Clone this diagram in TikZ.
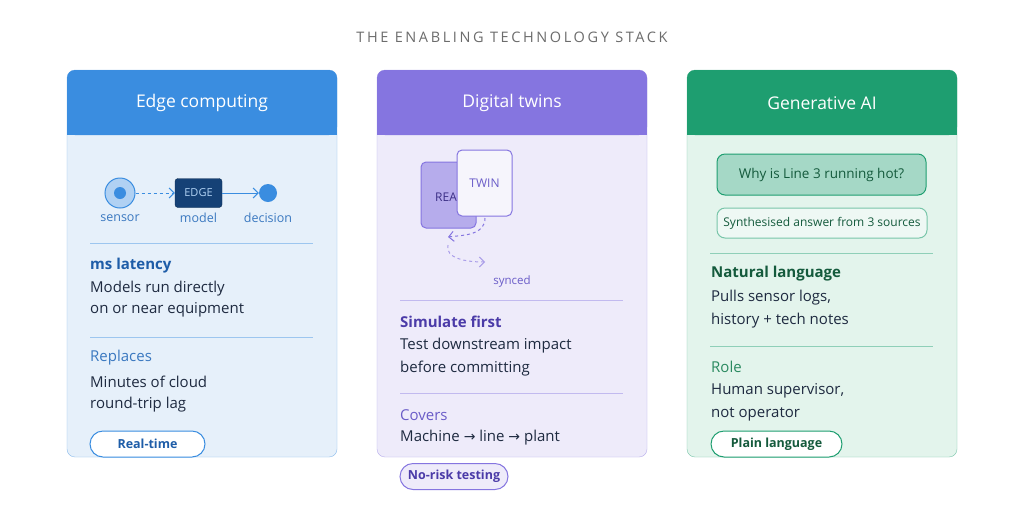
\documentclass[tikz,border=0pt]{standalone}
\usepackage{fontspec}
\setmainfont{Open Sans}
\newfontfamily\arr{DejaVu Sans}
\usetikzlibrary{arrows.meta}
\definecolor{bH}{HTML}{3A8DE0}\definecolor{bB}{HTML}{E6F0FA}\definecolor{bD}{HTML}{1E5DA8}\definecolor{bT}{HTML}{3A78C0}
\definecolor{pH}{HTML}{8575E0}\definecolor{pB}{HTML}{EEEBFA}\definecolor{pD}{HTML}{4B3BA8}\definecolor{pT}{HTML}{6A5CC8}
\definecolor{gH}{HTML}{1E9E70}\definecolor{gB}{HTML}{E3F4EC}\definecolor{gD}{HTML}{145A3C}\definecolor{gT}{HTML}{2A8A60}
\definecolor{txt}{HTML}{1E2A40}
\tikzset{
 hdr/.style={font=\fontsize{17.5}{20}\selectfont,text=white,anchor=center},
 bt/.style={anchor=west,font=\fontsize{15}{18}\selectfont,inner sep=0},
 pill/.style={draw=#1,fill=white,rounded corners=13,minimum height=26,inner sep=0,font=\fontsize{12.5}{15}\bfseries\selectfont,line width=1},
}
\begin{document}
\begin{tikzpicture}[x=1pt,y=-1pt]
\fill[white] (0,0) rectangle (1024,512);
\node (title) at (512,37) {\fontsize{14.5}{17}\selectfont\addfontfeature{LetterSpace=18}\color{gray!85!black}THE ENABLING TECHNOLOGY STACK};
% cards
\foreach \x/\c in {67/b,377/p,687/g}{
 \draw[\c H!60,fill=\c B,rounded corners=8] (\x,70) rectangle (\x+270,457);
 \fill[\c H,rounded corners=8] (\x,70) rectangle (\x+270,135);
 \fill[\c H] (\x,110) rectangle (\x+270,135);
}
\node[hdr] (h1) at (202,103) {Edge computing};
\node[hdr] (h2) at (512,103) {Digital twins};
\node[hdr] (h3) at (822,103) {Generative AI};
% blue
\node[circle,draw=bH,fill=bH!40,line width=1,minimum size=30,inner sep=0] (sen) at (120,193) {};
\fill[bH] (sen) circle (6);
\node[fill=bD!70!black,draw=bD!50!black,rounded corners=3,minimum width=47,minimum height=29,inner sep=0,text=bH!40,font=\fontsize{11}{13}\selectfont] (edge) at (198.5,193) {EDGE};
\node[circle,fill=bH,minimum size=18,inner sep=0] (dec) at (268,193) {};
\draw[bH,dashed,line width=1,-{Straight Barb[length=5]}] (sen) -- (edge);
\draw[bH,line width=1,-{Straight Barb[length=5]}] (edge) -- (dec);
\foreach \n/\p/\t in {l1/120/sensor,l2/198.5/model,l3/268/decision}\node[text=bT,font=\fontsize{12.5}{15}\selectfont] (\n) at (\p,218) {\t};
\draw[bH!50] (90,243) -- (313,243);
\node[bt,text=bD,font=\fontsize{15}{18}\bfseries\selectfont] (b1) at (90,266) {ms latency};
\node[bt,text=txt] (b2) at (90,289) {Models run directly};
\node[bt,text=txt] (b3) at (90,310) {on or near equipment};
\draw[bH!50] (90,337) -- (313,337);
\node[bt,text=bT] (b4) at (90,358) {Replaces};
\node[bt,text=txt] (b5) at (90,382) {Minutes of cloud};
\node[bt,text=txt] (b6) at (90,405) {round-trip lag};
\node[pill=bH,text=bD,minimum width=115] (p1) at (147.5,444) {Real-time};
% purple
\node[draw=pH,fill=pH!60,rounded corners=5,line width=1,minimum width=55,minimum height=66,inner sep=0] (real) at (448.5,195) {};
\node[text=pD!80!black,font=\fontsize{12}{14}\selectfont,anchor=west,inner sep=0] (realt) at (435,197) {REA};
\node[draw=pH,fill=pB!50!white,rounded corners=5,line width=1,minimum width=55,minimum height=66,inner sep=0,text=pT,font=\fontsize{12}{14}\selectfont] (twin) at (484.5,183) {TWIN};
\coordinate (s1) at (485,218); \coordinate (s2) at (448,237);
\coordinate (s3) at (448,245); \coordinate (s4) at (485,262);
\draw[pH,dashed,line width=1,-{Straight Barb[length=5]}] (s1) .. controls (485,235) and (465,235) .. (s2);
\draw[pH!70,dashed,line width=1,-{Straight Barb[length=5]}] (s3) .. controls (445,258) and (465,262) .. (s4);
\node[text=pT,font=\fontsize{11.5}{14}\selectfont] (syn) at (512,282) {synced};
\draw[pH!50] (400,300) -- (623,300);
\node[bt,text=pD,font=\fontsize{15}{18}\bfseries\selectfont] (c1) at (400,322) {Simulate first};
\node[bt,text=txt] (c2) at (400,346) {Test downstream impact};
\node[bt,text=txt] (c3) at (400,369) {before committing};
\draw[pH!50] (400,393) -- (623,393);
\node[bt,text=pT] (c4) at (400,415) {Covers};
\node[bt,text=txt] (c5) at (400,438) {Machine {\arr\fontsize{14}{16}\selectfont →} line {\arr\fontsize{14}{16}\selectfont →} plant};
\node[pill=pH,fill=pB,text=pD,minimum width=108] (p2) at (454,476.5) {No-risk testing};
% green
\node[draw=gH,fill=gH!40,rounded corners=8,line width=1,minimum width=209,minimum height=41,inner sep=0,text=gD,font=\fontsize{13.5}{16}\selectfont] (q) at (821.5,174.5) {Why is Line 3 running hot?};
\node[draw=gH!60,fill=gB!60!white,rounded corners=8,line width=1,minimum width=210,minimum height=30,inner sep=0,text=gD,font=\fontsize{12}{14}\selectfont] (a) at (822,223) {Synthesised answer from 3 sources};
\draw[gH!50] (710,253) -- (933,253);
\node[bt,text=gD,font=\fontsize{15}{18}\bfseries\selectfont] (d1) at (711,274) {Natural language};
\node[bt,text=txt] (d2) at (711,298) {Pulls sensor logs,};
\node[bt,text=txt] (d3) at (711,321) {history + tech notes};
\draw[gH!50] (710,346) -- (933,346);
\node[bt,text=gT] (d4) at (711,367) {Role};
\node[bt,text=txt] (d5) at (711,391) {Human supervisor,};
\node[bt,text=txt] (d6) at (711,414) {not operator};
\node[pill=gH,text=gD,minimum width=131] (p3) at (776.5,444) {Plain language};
\end{tikzpicture}
\end{document}
